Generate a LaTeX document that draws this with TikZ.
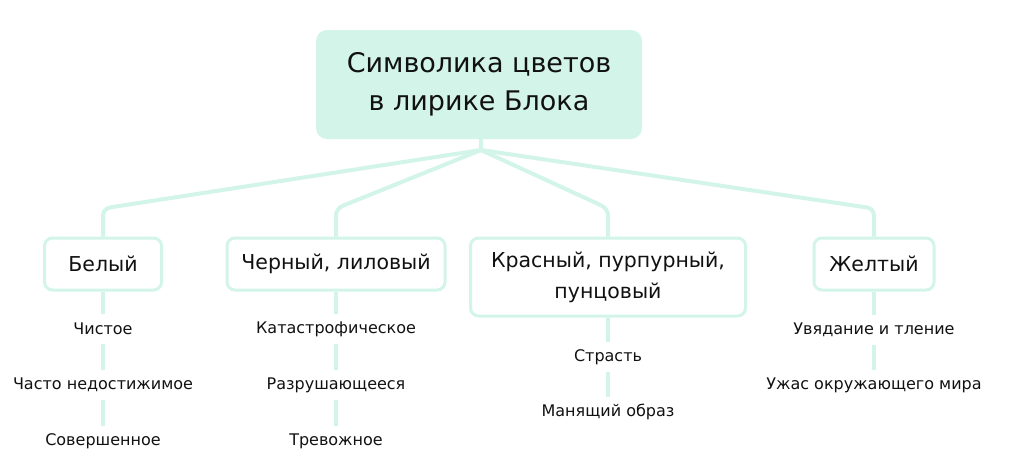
\documentclass[tikz,border=0pt]{standalone}
\usepackage{fontspec}
\setmainfont{DejaVu Sans}
\usepackage{xcolor}
\usepackage{tikz}
\usetikzlibrary{positioning,calc}

\definecolor{mint}{RGB}{211,244,232}
\definecolor{ink}{RGB}{17,17,17}

\tikzset{
  link/.style={draw=mint,line width=4pt,rounded corners=7pt},
  colbox/.style={draw=mint,line width=3pt,rounded corners=8pt,minimum height=52pt,
    align=center,text=ink,font=\fontsize{20.5}{31}\selectfont},
  titlebox/.style={fill=mint,rounded corners=11pt,minimum width=326pt,minimum height=109pt,
    align=center,text=ink,font=\fontsize{27}{38}\selectfont},
  item/.style={inner sep=0pt,minimum height=30pt,text=ink,font=\fontsize{16}{18}\selectfont}
}

\begin{document}
\begin{tikzpicture}[x=1pt,y=-1pt]
  \useasboundingbox (0,0) rectangle (1024,475);
  \node[titlebox] (title) at (479,84.5) {Символика цветов\\в лирике Блока};
  \coordinate (hub) at (481,150);
  % colour boxes
  \node[colbox,minimum width=117pt] (white) at (103,264) {Белый};
  \node[colbox,minimum width=218pt] (black) at (336,264) {Черный, лиловый};
  \node[colbox,minimum width=275pt,minimum height=78pt] (red) at (608,277) {Красный, пурпурный,\\пунцовый};
  \node[colbox,minimum width=120pt] (yellow) at (874,264) {Желтый};
  \draw[link] (title.south -| hub) -- (hub);
  \foreach \c in {white,black,red,yellow}
    \draw[link] (hub) -- ([yshift=28pt]\c.north) -- (\c.north);
  % meanings
  \node[item] (w1) at (103,329) {Чистое};
  \node[item] (w2) at (103,385) {Часто недостижимое};
  \node[item] (w3) at (103,441) {Совершенное};
  \node[item] (b1) at (336,329) {Катастрофическое};
  \node[item] (b2) at (336,385) {Разрушающееся};
  \node[item] (b3) at (336,441) {Тревожное};
  \node[item] (r1) at (608,357) {Страсть};
  \node[item] (r2) at (608,412) {Манящий образ};
  \node[item] (y1) at (874,330) {Увядание и тление};
  \node[item] (y2) at (874,385) {Ужас окружающего мира};
  \draw[link] (white) -- (w1) (w1) -- (w2) (w2) -- (w3);
  \draw[link] (black) -- (b1) (b1) -- (b2) (b2) -- (b3);
  \draw[link] (red) -- (r1) (r1) -- (r2);
  \draw[link] (yellow) -- (y1) (y1) -- (y2);
\end{tikzpicture}
\end{document}
